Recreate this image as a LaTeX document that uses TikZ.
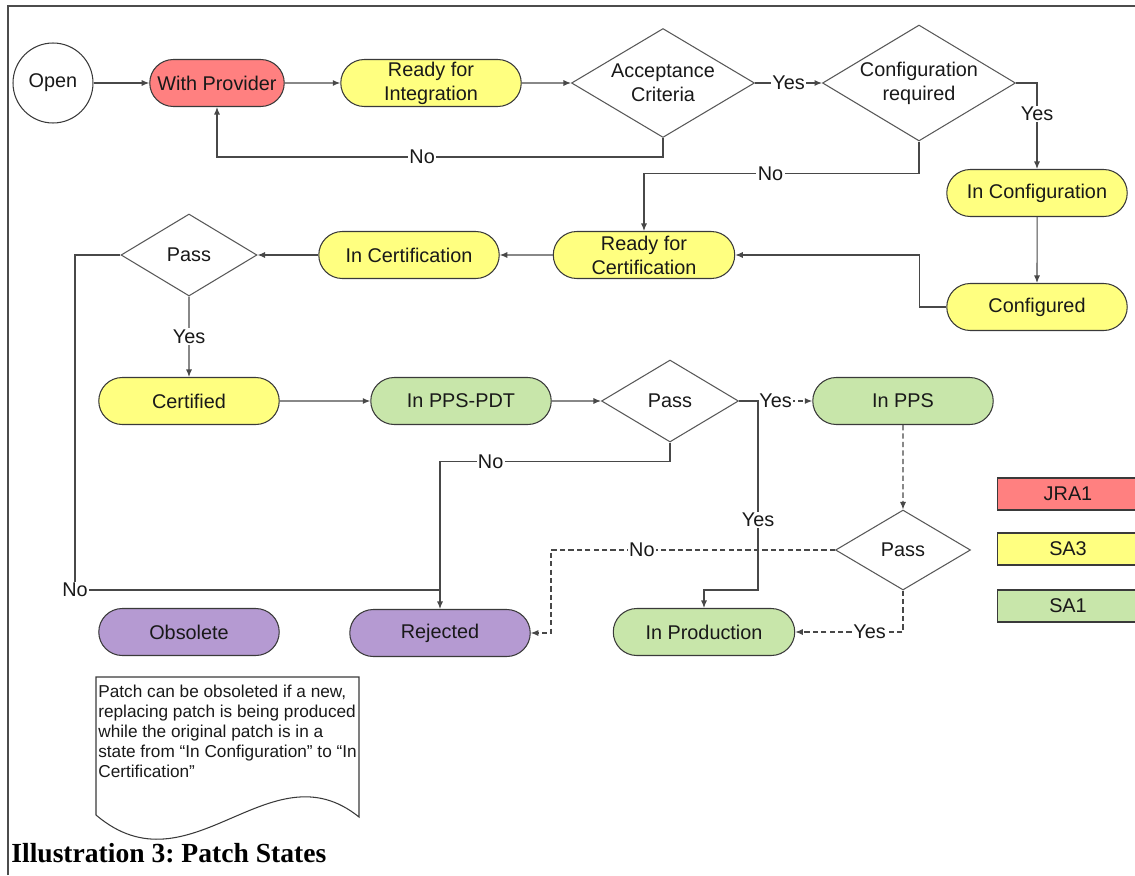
\documentclass[tikz,border=0pt]{standalone}
\usepackage{fontspec}
\setmainfont{Liberation Sans}
\newfontfamily\capfont{Liberation Serif}
\usepackage{tikz}
\usetikzlibrary{arrows.meta, shapes.geometric, shapes.misc}
\definecolor{psRed}{HTML}{FF8080}
\definecolor{psYellow}{HTML}{FFFF80}
\definecolor{psGreen}{HTML}{C8E6AA}
\definecolor{psPurple}{HTML}{B59AD2}
\definecolor{psInk}{HTML}{3A3A3A}
\definecolor{psLine}{HTML}{484848}

\begin{document}
\begin{tikzpicture}[
  x=0.02cm, y=-0.02cm,
  font=\fontsize{11.3}{13.6}\selectfont,
  text=black!90,
  >={Latex[length=1.5mm, width=1.2mm]},
  state/.style={rounded rectangle, draw=psInk, line width=0.6pt,
                minimum width=3.68cm, minimum height=0.94cm, inner sep=1pt,
                align=center},
  choice/.style={diamond, draw=psInk!85, line width=0.6pt, inner sep=0pt,
                 fill=white},
  key/.style={rectangle, draw=psInk, line width=0.6pt, minimum width=2.84cm,
              minimum height=0.64cm, inner sep=0pt},
  link/.style={draw=psLine, line width=0.6pt},
  flow/.style={link, ->},
  dflow/.style={flow, dash pattern=on 3pt off 1.8pt},
  lbl/.style={fill=white, inner sep=0.8pt},
]
\useasboundingbox (0,0) rectangle (1135,875);
\clip (0,0) rectangle (1135,875);

% frame of the illustration, open on the right and at the bottom
\draw[black!70, line width=1.1pt] (8,875) -- (8,6) -- (1135,6);

% ============================== states =====================================
\node[circle, draw=psInk, line width=0.6pt, minimum size=1.6cm,
      inner sep=0pt] (open) at (53,83) {Open};
\node[state, fill=psRed, minimum width=2.76cm] (wprov) at (217,83) {With Provider};
\node[state, fill=psYellow] (rfi) at (431,83) {Ready for\\Integration};
\node[choice, minimum width=3.66cm, minimum height=2.18cm,
      label={[align=center]center:Acceptance\\Criteria}] (acc) at (663,83) {};
\node[choice, minimum width=3.86cm, minimum height=2.32cm,
      label={[align=center]center:Configuration\\required}] (cfg) at (919,83) {};
\node[state, fill=psYellow] (incfg) at (1037,193) {In Configuration};
\node[state, fill=psYellow] (cfgd) at (1037,307) {Configured};

\node[state, fill=psYellow, minimum width=3.7cm] (rfc) at (644,255) {Ready for\\Certification};
\node[state, fill=psYellow] (incert) at (409,255) {In Certification};
\node[choice, minimum width=2.72cm, minimum height=1.64cm,
      label=center:Pass] (pass1) at (189,255) {};

\node[state, fill=psYellow] (certd) at (189,401) {Certified};
\node[state, fill=psGreen] (ppspdt) at (461,401) {In PPS-PDT};
\node[choice, minimum width=2.74cm, minimum height=1.64cm,
      label=center:Pass] (pass2) at (670,401) {};
\node[state, fill=psGreen] (inpps) at (903,401) {In PPS};
\node[choice, minimum width=2.7cm, minimum height=1.6cm,
      label=center:Pass] (pass3) at (903,550) {};

\node[state, fill=psPurple] (obs) at (189,632) {Obsolete};
\node[state, fill=psPurple] (rej) at (440,633) {Rejected};
\node[state, fill=psGreen, minimum width=3.7cm] (inprod) at (704,632) {In Production};

% --- key: who owns which state ---
\node[key, fill=psRed] (kjra) at (1068,494) {JRA1};
\node[key, fill=psYellow] (ksa3) at (1068,549) {SA3};
\node[key, fill=psGreen] (ksa1) at (1068,606) {SA1};

% ============================== transitions ================================
\draw[flow] (open) -- (wprov);
\draw[flow] (wprov) -- (rfi);
\draw[flow] (rfi) -- (acc);
\draw[flow] (acc) -- node[lbl]{Yes} (cfg);
\draw[flow] (acc.south) -- ++(0,19) -| node[lbl, pos=0.27]{No} (wprov.south);
\draw[flow] (cfg.east) -| node[lbl, pos=0.68]{Yes} (incfg.north);
\draw[flow] (cfg.south) -- ++(0,32) -| node[lbl, pos=0.27]{No} (rfc.north);
\draw[flow] (incfg) -- (cfgd);
\draw[flow] (cfgd.west) -- ++(-27,0) |- (rfc.east);

\draw[flow] (rfc) -- (incert);
\draw[flow] (incert) -- (pass1);
\draw[flow] (pass1) -- node[lbl]{Yes} (certd);
\coordinate (nocorner) at (75,590);
\draw[link] (pass1.west) -| (nocorner) node[lbl]{No} -- (rej.north |- nocorner);

\draw[flow] (certd) -- (ppspdt);
\draw[flow] (ppspdt) -- (pass2);
\draw[dflow] (pass2.east) -- node[lbl]{Yes} (inpps.west);
\coordinate (split) at (758,401);
\coordinate (prodbend) at (758,590);
\draw[flow] (pass2.east) -- (split) -- node[lbl, pos=0.63]{Yes} (prodbend) -| (inprod.north);
\draw[flow] (pass2.south) -- ++(0,19) -| node[lbl, pos=0.39]{No} (rej.north);

\draw[dflow] (inpps) -- (pass3);
\coordinate (rejbend) at (551,633);
\draw[dflow] (pass3.west) -| node[lbl, pos=0.34]{No} (rejbend) -- (rej.east);
\draw[dflow] (pass3.south) |- node[lbl, pos=0.655]{Yes} (inprod.east);

% ============================== note and caption ===========================
\draw[draw=psInk, line width=0.6pt, fill=white]
  (96,677) -- (359,677) -- (359,817)
  .. controls (270,745) and (190,895) .. (96,815) -- cycle;
\node[anchor=north west, inner sep=0pt, align=left,
      font=\fontsize{9.8}{11.4}\selectfont] (note) at (98,685)
  {Patch can be obsoleted if a new,\\
   replacing patch is being produced\\
   while the original patch is in a\\
   state from “In Configuration” to “In\\
   Certification”};

\node[anchor=west, inner sep=0pt, text=black,
      font=\capfont\bfseries\fontsize{15.7}{18}\selectfont\frenchspacing] (caption) at (11,853)
  {Illustration 3: Patch States};
\end{tikzpicture}
\end{document}
